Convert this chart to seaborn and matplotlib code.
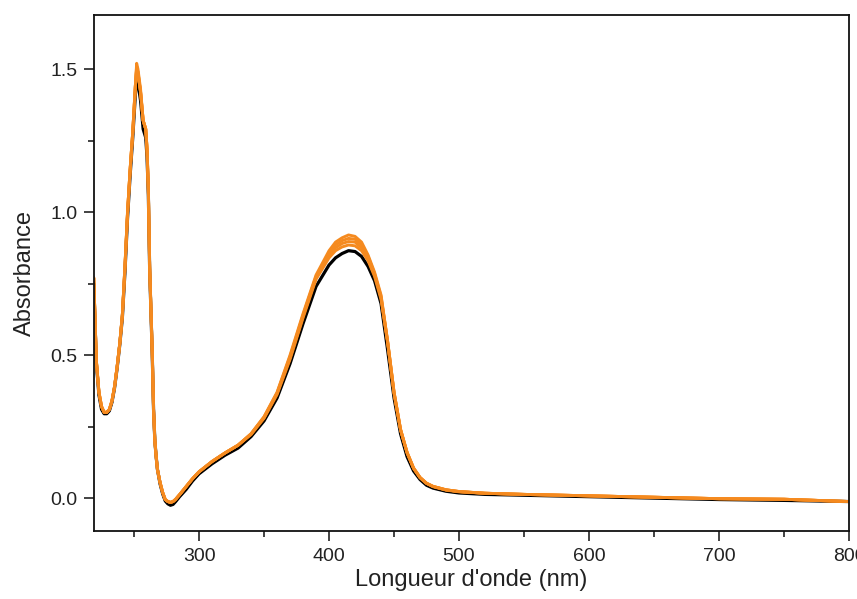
import matplotlib
matplotlib.use("Agg")
import matplotlib.pyplot as plt
import seaborn as sns
from matplotlib.ticker import MultipleLocator, FormatStrFormatter

# wavelength grid (nm)
wavelength = [219, 221, 223, 225, 227, 229, 231, 233, 235, 237,
              239, 241, 243, 245, 247, 249, 251, 252, 253, 255,
              257, 259, 260, 261, 262, 263, 264, 265, 266, 267,
              268, 270, 272, 274, 276, 278, 280, 282, 285, 290,
              295, 300, 310, 320, 330, 340, 350, 360, 370, 380,
              390, 400, 405, 410, 415, 420, 425, 430, 435, 440,
              445, 450, 455, 460, 465, 470, 475, 480, 490, 500,
              520, 550, 600, 650, 700, 750, 800]

abs_black = [0.75, 0.47, 0.36, 0.31, 0.295, 0.295, 0.305, 0.335, 0.385, 0.455,
             0.535, 0.63, 0.79, 0.98, 1.13, 1.26, 1.41, 1.47, 1.45, 1.39,
             1.29, 1.26, 1.19, 1.06, 0.80, 0.65, 0.50, 0.31, 0.20, 0.145,
             0.10, 0.05, 0.015, -0.01, -0.02, -0.025, -0.022, -0.012, 0.005, 0.03,
             0.06, 0.085, 0.12, 0.15, 0.175, 0.215, 0.27, 0.35, 0.47, 0.61,
             0.74, 0.815, 0.84, 0.855, 0.865, 0.862, 0.845, 0.81, 0.76, 0.68,
             0.52, 0.35, 0.225, 0.145, 0.095, 0.065, 0.045, 0.035, 0.024, 0.018,
             0.013, 0.01, 0.005, 0.0, -0.005, -0.008, -0.012]

abs_orange_1 = [0.77, 0.48, 0.37, 0.32, 0.30, 0.30, 0.31, 0.34, 0.39, 0.46,
                0.54, 0.64, 0.81, 1.00, 1.15, 1.28, 1.44, 1.52, 1.50, 1.43,
                1.32, 1.29, 1.22, 1.08, 0.81, 0.66, 0.51, 0.31, 0.20, 0.145,
                0.10, 0.055, 0.02, -0.005, -0.012, -0.015, -0.012, -0.004, 0.012, 0.04,
                0.068, 0.092, 0.128, 0.158, 0.185, 0.225, 0.285, 0.37, 0.50, 0.645,
                0.78, 0.865, 0.895, 0.91, 0.92, 0.915, 0.895, 0.85, 0.79, 0.71,
                0.55, 0.37, 0.24, 0.16, 0.105, 0.072, 0.052, 0.041, 0.029, 0.023,
                0.017, 0.013, 0.008, 0.003, -0.002, -0.004, -0.012]

abs_orange_2 = [0.77, 0.48, 0.37, 0.32, 0.30, 0.30, 0.31, 0.34, 0.39, 0.46,
                0.54, 0.64, 0.81, 1.00, 1.15, 1.28, 1.44, 1.51, 1.49, 1.42,
                1.32, 1.29, 1.22, 1.08, 0.81, 0.66, 0.51, 0.31, 0.20, 0.145,
                0.10, 0.055, 0.02, -0.005, -0.012, -0.015, -0.012, -0.004, 0.012, 0.04,
                0.068, 0.092, 0.128, 0.158, 0.185, 0.225, 0.283, 0.368, 0.495, 0.64,
                0.775, 0.855, 0.885, 0.90, 0.908, 0.905, 0.885, 0.845, 0.785, 0.705,
                0.55, 0.37, 0.24, 0.16, 0.105, 0.072, 0.052, 0.041, 0.029, 0.023,
                0.017, 0.013, 0.008, 0.003, -0.002, -0.004, -0.012]

abs_orange_3 = [0.77, 0.48, 0.37, 0.32, 0.30, 0.30, 0.31, 0.34, 0.39, 0.46,
                0.54, 0.64, 0.81, 1.00, 1.15, 1.28, 1.44, 1.50, 1.49, 1.42,
                1.32, 1.29, 1.22, 1.08, 0.81, 0.66, 0.51, 0.31, 0.20, 0.145,
                0.10, 0.055, 0.02, -0.005, -0.012, -0.015, -0.012, -0.004, 0.012, 0.04,
                0.068, 0.092, 0.128, 0.158, 0.185, 0.224, 0.281, 0.365, 0.49, 0.635,
                0.77, 0.85, 0.875, 0.89, 0.897, 0.895, 0.875, 0.835, 0.78, 0.70,
                0.55, 0.37, 0.24, 0.16, 0.105, 0.072, 0.052, 0.041, 0.029, 0.023,
                0.017, 0.013, 0.008, 0.003, -0.002, -0.004, -0.012]

abs_orange_4 = [0.77, 0.48, 0.37, 0.32, 0.30, 0.30, 0.31, 0.34, 0.39, 0.46,
                0.54, 0.64, 0.81, 1.00, 1.15, 1.28, 1.44, 1.50, 1.48, 1.42,
                1.32, 1.29, 1.22, 1.08, 0.81, 0.66, 0.51, 0.31, 0.20, 0.145,
                0.10, 0.055, 0.02, -0.005, -0.012, -0.015, -0.012, -0.004, 0.012, 0.04,
                0.068, 0.092, 0.128, 0.158, 0.185, 0.222, 0.279, 0.362, 0.485, 0.63,
                0.765, 0.84, 0.865, 0.878, 0.885, 0.882, 0.865, 0.83, 0.775, 0.695,
                0.545, 0.365, 0.238, 0.158, 0.104, 0.071, 0.051, 0.040, 0.028, 0.022,
                0.017, 0.013, 0.008, 0.003, -0.002, -0.004, -0.012]

orange_series = [abs_orange_4, abs_orange_3, abs_orange_2, abs_orange_1]

sns.set_theme(style="ticks")
plt.rcParams['font.family'] = ['Liberation Sans', 'DejaVu Sans']

fig = plt.figure(figsize=(8.57, 5.99), dpi=100)
ax = fig.add_axes([0.1097, 0.1135, 0.8810, 0.8615])

sns.lineplot(x=wavelength, y=abs_black, ax=ax, color='black', lw=2.3,
             sort=False, estimator=None)
for ys in orange_series:
    sns.lineplot(x=wavelength, y=ys, ax=ax, color='#F58A1F', lw=2.1,
                 sort=False, estimator=None)

ax.set_xlim(219.2, 800)
ax.set_ylim(-0.115, 1.689)
ax.xaxis.set_major_locator(MultipleLocator(100))
ax.xaxis.set_minor_locator(MultipleLocator(50))
ax.yaxis.set_major_locator(MultipleLocator(0.5))
ax.yaxis.set_minor_locator(MultipleLocator(0.25))
ax.yaxis.set_major_formatter(FormatStrFormatter('%.1f'))

ax.tick_params(which='major', direction='out', length=7, width=1.2,
               labelsize=14, pad=5, colors='#222222', labelcolor='#222222')
ax.tick_params(which='minor', direction='out', length=4, width=1.2,
               colors='#222222')
for side in ['top', 'right', 'left', 'bottom']:
    ax.spines[side].set_visible(True)
    ax.spines[side].set_linewidth(1.3)
    ax.spines[side].set_color('#111111')

ax.set_xlabel("Longueur d'onde (nm)", fontsize=17, color='#222222', labelpad=3)
ax.set_ylabel("Absorbance", fontsize=17, color='#222222', labelpad=10)

fig.savefig("out.png", dpi=100)
plt.close('all')
